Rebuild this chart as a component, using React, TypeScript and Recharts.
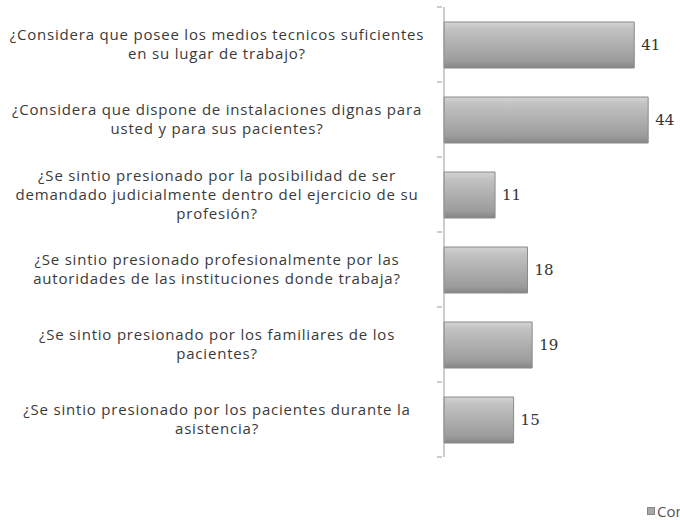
import { BarChart, Bar, XAxis, YAxis, LabelList } from 'recharts';

const preguntas = [
  '¿Considera que posee los medios tecnicos suficientes\nen su lugar de trabajo?',
  '¿Considera que dispone de instalaciones dignas para\nusted y para sus pacientes?',
  '¿Se sintio presionado por la posibilidad de ser\ndemandado judicialmente dentro del ejercicio de su\nprofesión?',
  '¿Se sintio presionado profesionalmente por las\nautoridades de las instituciones donde trabaja?',
  '¿Se sintio presionado por los familiares de los\npacientes?',
  '¿Se sintio presionado por los pacientes durante la\nasistencia?',
];
const conteo = [41, 44, 11, 18, 19, 15];
const serieNombre = 'Conteo';

const data = preguntas.map((p, i) => ({ pregunta: p, valor: conteo[i] }));

const W = 680;
const H = 520;
const TOP = 7;
const BOTTOM = 63;
const BAND = (H - TOP - BOTTOM) / preguntas.length;

const PreguntaTick = (props: any) => {
  const { x, y, payload, index } = props;
  const lines = String(payload.value).split('\n');
  const lh = 18.8;
  const start = y - ((lines.length - 1) * lh) / 2;
  return (
    <g>
      <line x1={x + 1} x2={x + 6} y1={y - BAND / 2} y2={y - BAND / 2} stroke="#999" />
      {index === preguntas.length - 1 && (
        <line x1={x + 1} x2={x + 6} y1={y + BAND / 2} y2={y + BAND / 2} stroke="#999" />
      )}
      <text textAnchor="middle" fontFamily="Open Sans" fontSize={15} letterSpacing={0.8} fill="#3a3a3a">
        {lines.map((l, i) => (
          <tspan key={i} x={217} y={start + i * lh} dy="0.35em">
            {l}
          </tspan>
        ))}
      </text>
    </g>
  );
};

export default function App() {
  return (
    <div style={{ position: 'absolute', left: 0, top: 0, width: W, height: H, overflow: 'hidden', background: '#fff' }}>
      <BarChart width={W} height={H} data={data} layout="vertical" margin={{ top: TOP, right: 4, bottom: BOTTOM, left: 0 }}>
        <defs>
          <linearGradient id="grisBar" x1="0" y1="0" x2="0" y2="1">
            <stop offset="0%" stopColor="#d4d4d4" />
            <stop offset="15%" stopColor="#c2c2c2" />
            <stop offset="85%" stopColor="#9c9c9c" />
            <stop offset="100%" stopColor="#858585" />
          </linearGradient>
        </defs>
        <XAxis type="number" domain={[0, 50]} hide />
        <YAxis
          type="category"
          dataKey="pregunta"
          width={444}
          axisLine={{ stroke: '#999' }}
          tickLine={false}
          tick={<PreguntaTick />}
          interval={0}
        />
        <Bar dataKey="valor" name={serieNombre} fill="url(#grisBar)" stroke="#8a8a8a" barSize={46} isAnimationActive={false}>
          <LabelList dataKey="valor" position="right" offset={7} fontFamily="DejaVu Serif" fontSize={15} fill="#333" />
        </Bar>
      </BarChart>
      <div style={{ position: 'absolute', left: 647, top: 501, display: 'flex', alignItems: 'center', fontFamily: 'Open Sans', fontSize: 15, color: '#555', whiteSpace: 'nowrap' }}>
        <span style={{ display: 'inline-block', width: 6, height: 6, background: '#a8a8a8', border: '1px solid #888', marginRight: 2 }} />
        {serieNombre}
      </div>
    </div>
  );
}
